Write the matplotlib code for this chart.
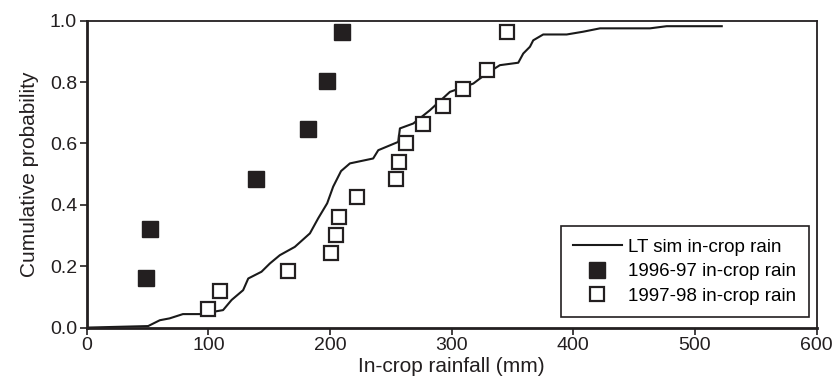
import matplotlib
matplotlib.use("Agg")
import matplotlib.pyplot as plt

plt.rcParams["font.family"] = ["Liberation Sans", "DejaVu Sans"]

# long-term simulated in-crop rain (cumulative curve)
sim_rain = [0, 50.4, 60, 68, 79, 93, 112, 119, 128.5, 132.7, 143.6, 150.5, 158.7,
            171, 183.4, 190.2, 197.6, 202.5, 209, 216.3, 235.4, 239.6, 256, 257.4,
            268.4, 282, 298.5, 317.7, 328.7, 339.6, 354.7, 358.8, 364.3, 367,
            375.2, 394.5, 408, 421.9, 463, 476.7, 522]
sim_prob = [0, 0.005, 0.024, 0.03, 0.044, 0.044, 0.057, 0.09, 0.122, 0.16, 0.182,
            0.209, 0.236, 0.263, 0.307, 0.356, 0.405, 0.459, 0.51, 0.535, 0.551,
            0.578, 0.605, 0.649, 0.665, 0.708, 0.768, 0.795, 0.828, 0.855, 0.863,
            0.893, 0.915, 0.936, 0.955, 0.955, 0.964, 0.975, 0.975, 0.982, 0.982]

# 1996-97 observed
rain_9697 = [48.3, 51.8, 138.7, 181.5, 197.4, 209.4]
prob_9697 = [0.163, 0.32, 0.483, 0.646, 0.803, 0.964]

# 1997-98 observed
rain_9798 = [99.3, 109.4, 165, 201, 204.5, 207.5, 222, 253.9, 256.8, 262,
             276.6, 293, 309.5, 329.2, 345.4]
prob_9798 = [0.06, 0.119, 0.184, 0.242, 0.301, 0.359, 0.424, 0.483, 0.541,
             0.60, 0.663, 0.722, 0.779, 0.839, 0.962]

fig = plt.figure(figsize=(8.35, 3.9), dpi=100)
ax = fig.add_axes([0.104, 0.160, 0.874, 0.787])

ax.plot(sim_rain, sim_prob, color="#1a1a1a", lw=1.5, label="LT sim in-crop rain")
ax.plot(rain_9697, prob_9697, ls="none", marker="s", ms=11, mfc="#231f20",
        mec="#231f20", mew=1.0, label="1996-97 in-crop rain")
ax.plot(rain_9798, prob_9798, ls="none", marker="s", ms=10.5, mfc="white",
        mec="#231f20", mew=1.6, label="1997-98 in-crop rain")

ax.set_xlim(0, 600)
ax.set_ylim(0, 1.0)
ax.set_xticks(range(0, 601, 100))
ax.set_yticks([0, 0.2, 0.4, 0.6, 0.8, 1.0])
ax.set_yticklabels(["0.0", "0.2", "0.4", "0.6", "0.8", "1.0"])
ax.tick_params(direction="out", length=5, width=1.2, labelsize=14,
               colors="#231f20", pad=2)
for side in ["left", "bottom"]:
    ax.spines[side].set_linewidth(2)
for side in ["top", "right"]:
    ax.spines[side].set_linewidth(1.3)
for s in ax.spines.values():
    s.set_color("#231f20")

ax.set_xlabel("In-crop rainfall (mm)", fontsize=15, labelpad=2, color="#231f20")
ax.set_ylabel("Cumulative probability", fontsize=15, labelpad=8, color="#231f20")

leg = ax.legend(loc="lower right", bbox_to_anchor=(0.989, 0.034), fontsize=13.5,
                fancybox=False, framealpha=1, edgecolor="#231f20",
                handlelength=2.6, handletextpad=0.35, labelspacing=0.4,
                borderpad=0.65, borderaxespad=0)
leg.get_frame().set_linewidth(1.2)

fig.savefig("out.png", dpi=100)
